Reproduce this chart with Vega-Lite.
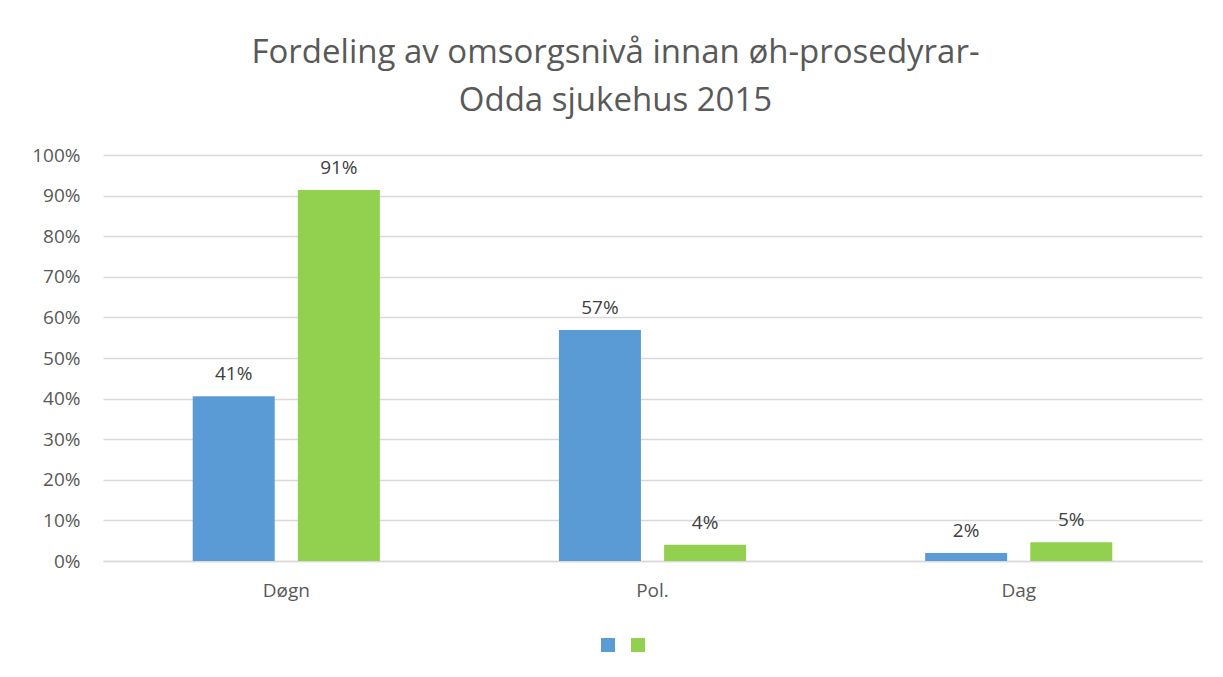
{
  "$schema": "https://vega.github.io/schema/vega-lite/v6.json",
  "width": 1099,
  "height": 406,
  "autosize": {"type": "none"},
  "padding": {"left": 103, "top": 155, "right": 21, "bottom": 116},
  "background": "white",
  "view": {"stroke": null},
  "title": {
    "text": ["Fordeling av omsorgsnivå innan øh-prosedyrar-", "Odda sjukehus 2015"],
    "font": "Open Sans",
    "fontSize": 33,
    "fontWeight": "normal",
    "color": "#595959",
    "lineHeight": 48,
    "anchor": "middle",
    "dx": -37,
    "offset": 28
  },
  "data": {
    "values": [
      {"kategori": "Døgn", "serie": "Serie1", "verdi": 0.406},
      {"kategori": "Døgn", "serie": "Serie2", "verdi": 0.914},
      {"kategori": "Pol.", "serie": "Serie1", "verdi": 0.569},
      {"kategori": "Pol.", "serie": "Serie2", "verdi": 0.04},
      {"kategori": "Dag", "serie": "Serie1", "verdi": 0.02},
      {"kategori": "Dag", "serie": "Serie2", "verdi": 0.046}
    ]
  },
  "encoding": {
    "x": {
      "field": "kategori",
      "type": "nominal",
      "sort": ["Døgn", "Pol.", "Dag"],
      "scale": {"paddingInner": 0.489, "paddingOuter": 0.245},
      "axis": {
        "title": null,
        "labelAngle": 0,
        "labelFont": "Open Sans",
        "labelFontSize": 19,
        "labelColor": "#595959",
        "labelPadding": 20,
        "ticks": false,
        "domainColor": "#d9d9d9",
        "domainWidth": 1.5
      }
    },
    "xOffset": {
      "field": "serie",
      "type": "nominal",
      "scale": {"paddingInner": 0.22, "paddingOuter": 0}
    },
    "y": {
      "field": "verdi",
      "type": "quantitative",
      "scale": {"domain": [0, 1], "nice": false},
      "axis": {
        "title": null,
        "format": ".0%",
        "values": [0, 0.1, 0.2, 0.3, 0.4, 0.5, 0.6, 0.7, 0.8, 0.9, 1],
        "labelFont": "Open Sans",
        "labelFontSize": 19,
        "labelColor": "#595959",
        "labelPadding": 23,
        "ticks": false,
        "domain": false,
        "gridColor": "#d9d9d9",
        "gridWidth": 1.5
      }
    }
  },
  "layer": [
    {
      "mark": {"type": "bar"},
      "encoding": {
        "color": {
          "field": "serie",
          "type": "nominal",
          "scale": {"domain": ["Serie1", "Serie2"], "range": ["#5B9BD5", "#92D050"]},
          "legend": {
            "title": null,
            "orient": "none",
            "legendX": 498,
            "legendY": 483,
            "direction": "horizontal",
            "symbolType": "square",
            "symbolSize": 196,
            "symbolStrokeWidth": 0,
            "symbolOpacity": 1,
            "labelExpr": "''",
            "labelOffset": 0,
            "columnPadding": 16
          }
        }
      }
    },
    {
      "mark": {
        "type": "text",
        "baseline": "bottom",
        "dy": -12,
        "font": "Open Sans",
        "fontSize": 19,
        "color": "#404040"
      },
      "encoding": {
        "text": {"field": "verdi", "type": "quantitative", "format": ".0%"}
      }
    }
  ]
}
